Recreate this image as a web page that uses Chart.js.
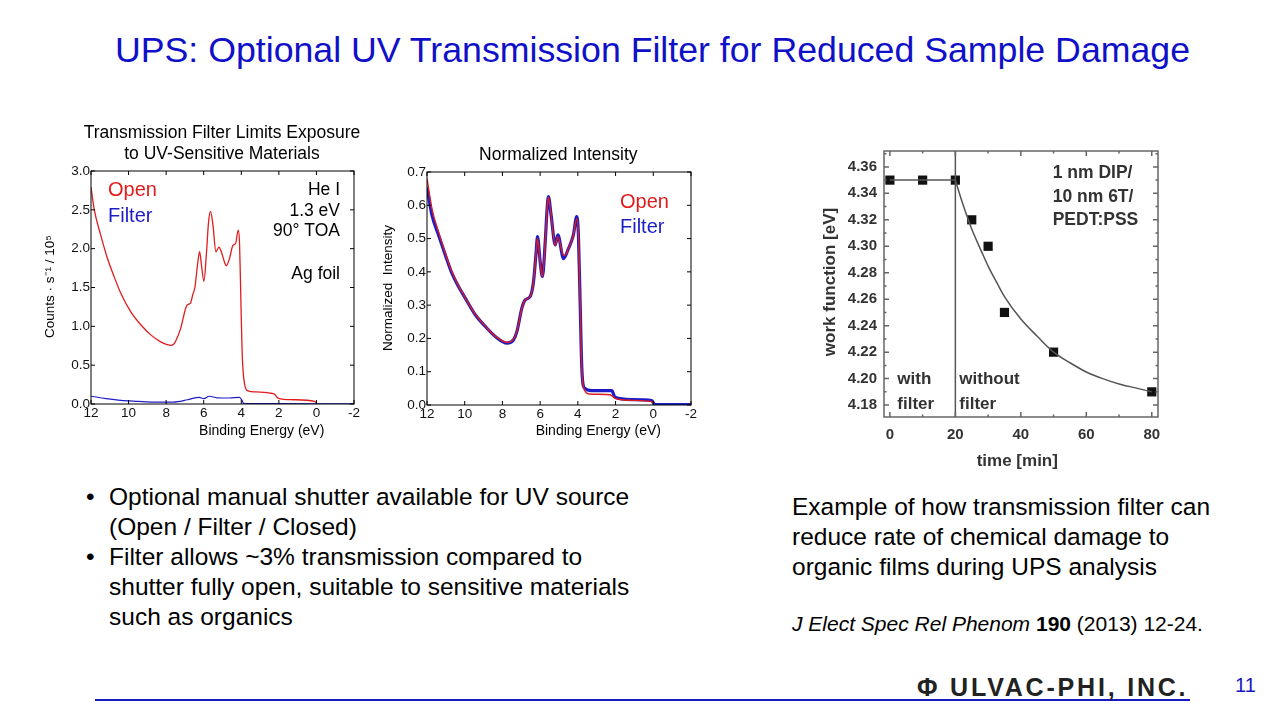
<!DOCTYPE html>
<html>
<head>
<meta charset="utf-8">
<script src="https://cdn.jsdelivr.net/npm/chart.js@4"></script>
<style>
  body { margin: 0; width: 1280px; height: 720px; background: #fff; position: relative; overflow: hidden;
         font-family: "Liberation Sans", Arial, sans-serif; }
  canvas { position: absolute; }
  .t { position: absolute; white-space: nowrap; color: #000; }
</style>
</head>
<body>

<div class="t" style="left:0;width:1305px;top:29px;text-align:center;font-size:35.7px;color:#1010c8;line-height:42px;">UPS: Optional UV Transmission Filter for Reduced Sample Damage</div>

<canvas id="spec1" width="345" height="330" style="left:30px;top:118px;"></canvas>
<canvas id="spec2" width="330" height="310" style="left:370px;top:140px;"></canvas>
<canvas id="wf" width="380" height="340" style="left:800px;top:135px;"></canvas>

<div class="t" style="left:86px;top:482px;font-size:24.5px;line-height:30px;">•</div>
<div class="t" style="left:109px;top:482px;font-size:24.5px;line-height:30px;">Optional manual shutter available for UV source<br>(Open / Filter / Closed)</div>
<div class="t" style="left:86px;top:542px;font-size:24.5px;line-height:30px;">•</div>
<div class="t" style="left:109px;top:542px;font-size:24.5px;line-height:30px;">Filter allows ~3% transmission compared to<br>shutter fully open, suitable to sensitive materials<br>such as organics</div>

<div class="t" style="left:792px;top:492px;font-size:24.5px;line-height:30px;">Example of how transmission filter can<br>reduce rate of chemical damage to<br>organic films during UPS analysis</div>
<div class="t" style="left:792px;top:611px;font-size:21px;line-height:26px;"><i>J Elect Spec Rel Phenom</i> <b>190</b> (2013) 12-24.</div>

<div style="position:absolute;left:95px;top:699px;width:1095px;height:2px;background:#1818c0;"></div>
<div class="t" style="left:917px;top:672px;font-size:25px;line-height:30px;font-weight:bold;color:#222;letter-spacing:2.8px;">Φ ULVAC-PHI, INC.</div>
<div class="t" style="left:1235px;top:673px;font-size:20px;line-height:24px;color:#1818c0;">11</div>

<script>
// chart 1: counts, open vs filter (binding energy in eV)
const ev1Open = [12.0, 11.84, 11.49, 11.13, 10.77, 10.42, 9.89, 9.35, 8.82, 8.29, 7.95, 7.75, 7.6, 7.49, 7.22, 6.95, 6.85, 6.7, 6.58, 6.47, 6.33, 6.22, 6.12, 5.99, 5.85, 5.74, 5.64, 5.51, 5.35, 5.19, 5.05, 4.87, 4.8, 4.62, 4.45, 4.3, 4.16, 4.09, 4.02, 3.95, 3.82, 3.65, 3.2, 2.49, 2.22, 2.05, 1.25, 0.09, 0.0];
const cnt1Open = [2.79, 2.52, 2.18, 1.88, 1.64, 1.43, 1.19, 1.02, 0.89, 0.80, 0.765, 0.755, 0.77, 0.81, 0.98, 1.24, 1.28, 1.30, 1.41, 1.50, 1.79, 1.96, 1.79, 1.58, 1.96, 2.35, 2.48, 2.31, 1.96, 2.02, 1.95, 1.81, 1.78, 1.88, 2.04, 2.07, 2.24, 2.05, 1.32, 0.63, 0.25, 0.17, 0.155, 0.14, 0.125, 0.077, 0.055, 0.035, 0.01];
const ev1Filter = [12.0, 11.2, 10.4, 9.5, 8.64, 7.6, 6.86, 6.24, 6.0, 5.7, 5.3, 4.62, 4.09, 3.95, 3.88, 3.0, 0.0, -2.0];
const cnt1Filter = [0.10, 0.07, 0.047, 0.035, 0.025, 0.025, 0.055, 0.086, 0.07, 0.10, 0.08, 0.077, 0.086, 0.04, 0.01, 0.004, 0.003, 0.003];

// chart 2: normalized intensity
const ev2Open = [12.0, 11.74, 11.39, 11.03, 10.68, 10.33, 9.97, 9.44, 8.91, 8.38, 7.76, 7.41, 7.23, 6.97, 6.79, 6.53, 6.35, 6.21, 6.14, 6.0, 5.88, 5.73, 5.64, 5.56, 5.42, 5.2, 5.06, 4.76, 4.6, 4.5, 4.24, 4.06, 3.97, 3.88, 3.79, 3.65, 3.4, 2.3, 2.2, 2.03, 1.14, 0.08, 0.0];
const norm2Open = [0.68, 0.59, 0.52, 0.455, 0.40, 0.358, 0.322, 0.272, 0.237, 0.207, 0.188, 0.198, 0.222, 0.29, 0.316, 0.326, 0.37, 0.46, 0.50, 0.43, 0.385, 0.49, 0.58, 0.625, 0.57, 0.48, 0.505, 0.45, 0.455, 0.47, 0.51, 0.56, 0.51, 0.31, 0.11, 0.045, 0.033, 0.031, 0.028, 0.02, 0.014, 0.01, 0.005];
const ev2Filter = [12.0, 11.74, 11.39, 11.03, 10.68, 10.33, 9.97, 9.44, 8.91, 8.38, 7.76, 7.41, 7.23, 6.97, 6.79, 6.53, 6.35, 6.21, 6.14, 6.0, 5.88, 5.73, 5.64, 5.56, 5.42, 5.2, 5.06, 4.76, 4.5, 4.24, 4.06, 3.97, 3.88, 3.79, 3.65, 3.26, 2.2, 2.03, 1.14, 0.08, -0.09, -2.0];
const norm2Filter = [0.655, 0.571, 0.511, 0.451, 0.396, 0.356, 0.321, 0.271, 0.236, 0.206, 0.186, 0.196, 0.221, 0.291, 0.316, 0.326, 0.371, 0.461, 0.506, 0.431, 0.386, 0.491, 0.581, 0.626, 0.571, 0.481, 0.511, 0.44, 0.47, 0.51, 0.566, 0.51, 0.31, 0.111, 0.051, 0.043, 0.043, 0.023, 0.016, 0.013, 0.001, 0.001];

const evTicks = [12, 10, 8, 6, 4, 2, 0, -2];
const cntTicks = [0, 0.5, 1.0, 1.5, 2.0, 2.5, 3.0];
const normTicks = [0, 0.1, 0.2, 0.3, 0.4, 0.5, 0.6, 0.7];

// chart 3: work function vs time
const timeMin = [0, 10, 20, 25, 30, 35, 50, 80];
const workFn = [4.35, 4.35, 4.35, 4.32, 4.30, 4.25, 4.22, 4.19];
const flatTime = [0, 20];
const flatWF = [4.35, 4.35];
const fitTime = [20, 22, 25, 28, 30, 33, 35, 40, 45, 50, 55, 60, 65, 70, 75, 80];
const fitWF = [4.350, 4.334, 4.313, 4.296, 4.285, 4.271, 4.262, 4.245, 4.232, 4.220, 4.212, 4.205, 4.200, 4.196, 4.193, 4.190];
const filterOffAt = 20;
const timeTicks = [0, 20, 40, 60, 80];
const timeMinor = [10, 30, 50, 70];
const wfTicks = [4.18, 4.20, 4.22, 4.24, 4.26, 4.28, 4.30, 4.32, 4.34, 4.36];
const wfMinor = [4.19, 4.21, 4.23, 4.25, 4.27, 4.29, 4.31, 4.33, 4.35, 4.37];
const wfRange = [4.171, 4.372];

const RED = '#e01c1c';
const BLUE = '#1c1cc8';
const FONT = '"Liberation Sans", Arial, sans-serif';

const pts = (xs, ys) => xs.map((x, i) => ({ x: x, y: ys[i] }));
const setTicks = arr => s => { s.ticks = arr.map(v => ({ value: v })); };

// box, inward ticks and free texts
function frame(cfg) {
  return {
    id: 'frame',
    afterDraw(chart) {
      const ctx = chart.ctx, a = chart.chartArea;
      const x = chart.scales.x, y = chart.scales.y;
      ctx.save();
      ctx.strokeStyle = cfg.color;
      ctx.lineWidth = cfg.width;
      ctx.strokeRect(a.left, a.top, a.right - a.left, a.bottom - a.top);
      ctx.beginPath();
      const xt = (v, len) => {
        const p = x.getPixelForValue(v);
        ctx.moveTo(p, a.bottom); ctx.lineTo(p, a.bottom - len);
        ctx.moveTo(p, a.top); ctx.lineTo(p, a.top + len);
      };
      const yt = (v, len) => {
        const p = y.getPixelForValue(v);
        ctx.moveTo(a.left, p); ctx.lineTo(a.left + len, p);
        ctx.moveTo(a.right, p); ctx.lineTo(a.right - len, p);
      };
      x.ticks.forEach(t => xt(t.value, cfg.len));
      y.ticks.forEach(t => yt(t.value, cfg.len));
      (cfg.xMinor || []).forEach(v => xt(v, cfg.len / 2));
      (cfg.yMinor || []).forEach(v => yt(v, cfg.len / 2));
      ctx.stroke();

      ctx.textBaseline = 'middle';
      cfg.texts.forEach(t => {
        ctx.save();
        ctx.font = t.font;
        ctx.fillStyle = t.color || '#000';
        ctx.textAlign = t.align || 'left';
        ctx.translate(t.x, t.y);
        if (t.rot) ctx.rotate(-Math.PI / 2);
        ctx.fillText(t.t, 0, 0);
        ctx.restore();
      });
      ctx.restore();
    }
  };
}

function specOptions(yTicks, yMax, yDigits, box) {
  return {
    responsive: false,
    animation: false,
    devicePixelRatio: 1,
    layout: { padding: { left: 0, top: box.top, right: box.right, bottom: 0 } },
    plugins: { legend: { display: false }, tooltip: { enabled: false } },
    scales: {
      x: {
        type: 'linear', reverse: true, min: -2, max: 12,
        afterBuildTicks: setTicks(evTicks),
        afterFit: s => { s.height = box.bottom; },
        grid: { display: false, drawTicks: false },
        border: { display: false },
        ticks: { padding: 1, color: '#111', font: { family: FONT, size: 13.5 }, maxRotation: 0,
                 callback: v => String(v) }
      },
      y: {
        type: 'linear', min: 0, max: yMax,
        afterBuildTicks: setTicks(yTicks),
        afterFit: s => { s.width = box.left; },
        grid: { display: false, drawTicks: false },
        border: { display: false },
        ticks: { padding: 1, color: '#111', font: { family: FONT, size: 13.5 },
                 callback: v => v.toFixed(yDigits) }
      }
    }
  };
}

new Chart(document.getElementById('spec1'), {
  type: 'scatter',
  data: {
    datasets: [
      { data: pts(ev1Filter, cnt1Filter), showLine: true, borderColor: BLUE, borderWidth: 1.2,
        pointRadius: 0, cubicInterpolationMode: 'monotone' },
      { data: pts(ev1Open, cnt1Open), showLine: true, borderColor: RED, borderWidth: 1.3,
        pointRadius: 0, cubicInterpolationMode: 'monotone' }
    ]
  },
  options: specOptions(cntTicks, 3.0, 1, { left: 61, top: 53, right: 21, bottom: 44 }),
  plugins: [frame({
    color: '#000', width: 1, len: 4,
    texts: [
      { t: 'Transmission Filter Limits Exposure', x: 192, y: 15.5, font: '17.5px ' + FONT, align: 'center' },
      { t: 'to UV-Sensitive Materials', x: 192, y: 36.5, font: '17.5px ' + FONT, align: 'center' },
      { t: 'Counts · s⁻¹ / 10⁵', x: 20, y: 168.5, font: '13.5px ' + FONT, align: 'center', rot: true },
      { t: 'Binding Energy (eV)', x: 231.7, y: 312.7, font: '14px ' + FONT, align: 'center' },
      { t: 'Open', x: 78, y: 72, font: '20px ' + FONT, color: RED },
      { t: 'Filter', x: 78, y: 98.7, font: '20px ' + FONT, color: BLUE },
      { t: 'He I', x: 310, y: 72, font: '17.5px ' + FONT, align: 'right' },
      { t: '1.3 eV', x: 310, y: 92.7, font: '17.5px ' + FONT, align: 'right' },
      { t: '90° TOA', x: 310, y: 113, font: '17.5px ' + FONT, align: 'right' },
      { t: 'Ag foil', x: 310, y: 156, font: '17.5px ' + FONT, align: 'right' }
    ]
  })]
});

new Chart(document.getElementById('spec2'), {
  type: 'scatter',
  data: {
    datasets: [
      { data: pts(ev2Open, norm2Open), showLine: true, borderColor: RED, borderWidth: 1.4,
        pointRadius: 0, cubicInterpolationMode: 'monotone' },
      { data: pts(ev2Filter, norm2Filter), showLine: true, borderColor: BLUE, borderWidth: 3.2,
        pointRadius: 0, cubicInterpolationMode: 'monotone' }
    ]
  },
  options: specOptions(normTicks, 0.7, 1, { left: 57, top: 32, right: 9, bottom: 45 }),
  plugins: [frame({
    color: '#000', width: 1, len: 4,
    texts: [
      { t: 'Normalized Intensity', x: 188.3, y: 15, font: '17.5px ' + FONT, align: 'center' },
      { t: 'Normalized  Intensity', x: 18.3, y: 148, font: '13.5px ' + FONT, align: 'center', rot: true },
      { t: 'Binding Energy (eV)', x: 228.3, y: 290.7, font: '14px ' + FONT, align: 'center' },
      { t: 'Open', x: 250, y: 62.7, font: '20px ' + FONT, color: RED },
      { t: 'Filter', x: 250, y: 87.3, font: '20px ' + FONT, color: BLUE }
    ]
  })]
});

const GRAY = '#333';
new Chart(document.getElementById('wf'), {
  type: 'scatter',
  data: {
    datasets: [
      { data: [{ x: filterOffAt, y: wfRange[0] }, { x: filterOffAt, y: wfRange[1] }], showLine: true,
        borderColor: '#555', borderWidth: 1.5, pointRadius: 0 },
      { data: pts(flatTime, flatWF), showLine: true, borderColor: '#555', borderWidth: 1.5, pointRadius: 0 },
      { data: pts(fitTime, fitWF), showLine: true, borderColor: '#555', borderWidth: 1.5, pointRadius: 0,
        cubicInterpolationMode: 'monotone' },
      { data: pts(timeMin, workFn), pointStyle: 'rect', pointRadius: 6.5, backgroundColor: '#111',
        borderColor: '#111', borderWidth: 0 }
    ]
  },
  options: {
    responsive: false,
    animation: false,
    devicePixelRatio: 1,
    layout: { padding: { left: 0, top: 10, right: 22, bottom: 0 } },
    plugins: { legend: { display: false }, tooltip: { enabled: false } },
    scales: {
      x: {
        type: 'linear', min: -1.8, max: 81.9,
        afterBuildTicks: setTicks(timeTicks),
        afterFit: s => { s.height = 58; },
        grid: { display: false, drawTicks: false },
        border: { display: false },
        ticks: { padding: 9, color: GRAY, font: { family: FONT, size: 15, weight: 'bold' }, maxRotation: 0 }
      },
      y: {
        type: 'linear', min: wfRange[0], max: wfRange[1],
        afterBuildTicks: setTicks(wfTicks),
        afterFit: s => { s.width = 84; },
        grid: { display: false, drawTicks: false },
        border: { display: false },
        ticks: { padding: 7, color: GRAY, font: { family: FONT, size: 15, weight: 'bold' },
                 callback: v => v.toFixed(2) }
      }
    }
  },
  plugins: [frame({
    color: '#666', width: 1.5, len: 5, xMinor: timeMinor, yMinor: wfMinor,
    texts: [
      { t: 'work function [eV]', x: 30.7, y: 147, font: 'bold 17px ' + FONT, color: GRAY, align: 'center', rot: true },
      { t: 'time [min]', x: 217.3, y: 326.7, font: 'bold 17px ' + FONT, color: GRAY, align: 'center' },
      { t: '1 nm DIP/', x: 252.7, y: 38.3, font: 'bold 17.5px ' + FONT, color: GRAY },
      { t: '10 nm 6T/', x: 252.7, y: 62.3, font: 'bold 17.5px ' + FONT, color: GRAY },
      { t: 'PEDT:PSS', x: 252.7, y: 85, font: 'bold 17.5px ' + FONT, color: GRAY },
      { t: 'with', x: 97.3, y: 244.3, font: 'bold 17px ' + FONT, color: GRAY },
      { t: 'filter', x: 97.3, y: 269.3, font: 'bold 17px ' + FONT, color: GRAY },
      { t: 'without', x: 159.3, y: 244.3, font: 'bold 17px ' + FONT, color: GRAY },
      { t: 'filter', x: 159.3, y: 269.3, font: 'bold 17px ' + FONT, color: GRAY }
    ]
  })]
});
</script>
</body>
</html>
